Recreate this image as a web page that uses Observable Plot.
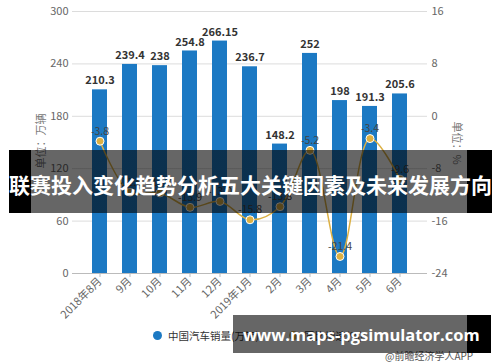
<!DOCTYPE html>
<html>
<head>
<meta charset="utf-8">
<script src="https://cdn.jsdelivr.net/npm/d3@7"></script>
<script src="https://cdn.jsdelivr.net/npm/@observablehq/plot@0.6"></script>
<style>
  html, body { margin: 0; padding: 0; background: #fff; }
  #wrap { position: relative; width: 500px; height: 362px; overflow: hidden; font-family: "Noto Sans CJK SC", "Noto Sans", sans-serif; }
  .banner { position: absolute; color: #fff; font-weight: bold; display: flex; align-items: center; justify-content: center; white-space: nowrap; }
  #b1 { left: 9px; top: 150px; width: 483px; height: 63px; font-size: 21px; padding-top: 5px; box-sizing: border-box;
        background: linear-gradient(to right, #000 0px, #000 22px, rgba(0,0,0,0.6) 22px, rgba(0,0,0,0.6) 458px, #000 458px, #000 483px); }
  #b2 { left: 233px; top: 315px; width: 258px; height: 38px; font-size: 16.5px; font-family: "Open Sans", sans-serif;
        justify-content: flex-start; padding-left: 10px; box-sizing: border-box;
        background: linear-gradient(to right, rgba(0,0,0,0.6) 0px, rgba(0,0,0,0.6) 234px, #000 234px, #000 258px); }
  .ylab { position: absolute; font-size: 11px; color: #777; white-space: nowrap; }
</style>
</head>
<body>
<div id="wrap"></div>
<script>
const months = ["2018年8月","9月","10月","11月","12月","2019年1月","2月","3月","4月","5月","6月"];
const sales = [210.3, 239.4, 238, 254.8, 266.15, 236.7, 148.2, 252, 198, 191.3, 205.6];
const growth = [-3.8, -11.6, -11.7, -13.9, -13.0, -15.8, -13.8, -5.2, -21.4, -3.4, -9.6];
const leftTicks = [0, 60, 120, 180, 240, 300];
const rightTicks = [-24, -16, -8, 0, 8, 16];
const seriesNames = ["中国汽车销量(万辆)", "同比增速(%)"];

const toLeft = v => (v + 24) * 7.5;
const data = months.map((m, i) => ({month: m, sales: sales[i], growth: growth[i], gl: toLeft(growth[i])}));

const font = '"Noto Sans CJK SC", "Noto Sans", sans-serif';
const blue = "#1c79c3";
const gold = "#dcb043";

const chart = Plot.plot({
  width: 500,
  height: 362,
  marginTop: 11,
  marginBottom: 89,
  marginLeft: 72,
  marginRight: 73,
  style: {fontFamily: font, fontSize: "11px", color: "#666", background: "transparent"},
  x: {domain: months, paddingInner: 0.515, paddingOuter: 0.5, label: null},
  y: {domain: [0, 300], label: null},
  marks: [
    Plot.gridY(leftTicks, {stroke: "#dcdcdc", strokeOpacity: 1}),
    Plot.axisY(leftTicks, {anchor: "left", tickSize: 0, tickPadding: 4, label: null, fill: "#666"}),
    Plot.axisY(rightTicks.map(toLeft), {anchor: "right", tickSize: 0, tickPadding: 4, label: null, fill: "#666",
      tickFormat: d => String(Math.round(d / 7.5 - 24))}),
    Plot.barY(data, {x: "month", y: "sales", fill: blue}),
    Plot.ruleY([0], {stroke: "#bbb"}),
    Plot.axisX({tickRotate: -45, tickSize: 4, tickPadding: 2, stroke: "#bbb", fill: "#666", label: null, fontSize: 11}),
    Plot.text(data, {x: "month", y: "sales", text: d => String(d.sales), dy: -9, fontWeight: "bold", fontSize: 11, fill: "#333"}),
    Plot.line(data, {x: "month", y: "gl", curve: "catmull-rom", stroke: gold, strokeWidth: 1.5}),
    Plot.dot(data, {x: "month", y: "gl", r: 4, fill: gold, stroke: "#fff", strokeWidth: 1}),
    Plot.text(data, {x: "month", y: "gl", text: d => d.growth.toFixed(1), dy: -10, fontSize: 10.5, fill: "#444"})
  ]
});

const wrap = document.getElementById("wrap");
wrap.appendChild(chart);
chart.style.position = "absolute";
chart.style.left = "0px";
chart.style.top = "0px";

// axis titles
const yl = document.createElement("div");
yl.className = "ylab";
yl.textContent = "单位：万辆";
yl.style.left = "40px"; yl.style.top = "141px";
yl.style.transform = "translate(-50%, -50%) rotate(-90deg)";
wrap.appendChild(yl);
const yr = document.createElement("div");
yr.className = "ylab";
yr.textContent = "单位：%";
yr.style.left = "458px"; yr.style.top = "143px";
yr.style.transform = "translate(-50%, -50%) rotate(90deg)";
wrap.appendChild(yr);

// legend
const lg = document.createElement("div");
lg.style.cssText = "position:absolute;left:153px;top:328px;display:flex;align-items:center;font-size:10.5px;color:#333;white-space:nowrap;";
lg.innerHTML = `<span style="display:inline-block;width:9px;height:9px;border-radius:50%;background:${blue};margin-right:6px"></span>${seriesNames[0]}`
  + `<span style="display:inline-block;width:9px;height:9px;border-radius:50%;background:${gold};margin:0 6px 0 30px"></span>${seriesNames[1]}`;
wrap.appendChild(lg);

// source
const src = document.createElement("div");
src.style.cssText = "position:absolute;left:385px;top:350px;font-size:10px;line-height:11px;color:#555;white-space:nowrap;";
src.textContent = "@前瞻经济学人APP";
wrap.appendChild(src);

// banners
const b1 = document.createElement("div");
b1.className = "banner"; b1.id = "b1";
b1.textContent = "联赛投入变化趋势分析五大关键因素及未来发展方向";
wrap.appendChild(b1);
const b2 = document.createElement("div");
b2.className = "banner"; b2.id = "b2";
b2.textContent = "www.maps-pgsimulator.com";
wrap.appendChild(b2);
</script>
</body>
</html>
